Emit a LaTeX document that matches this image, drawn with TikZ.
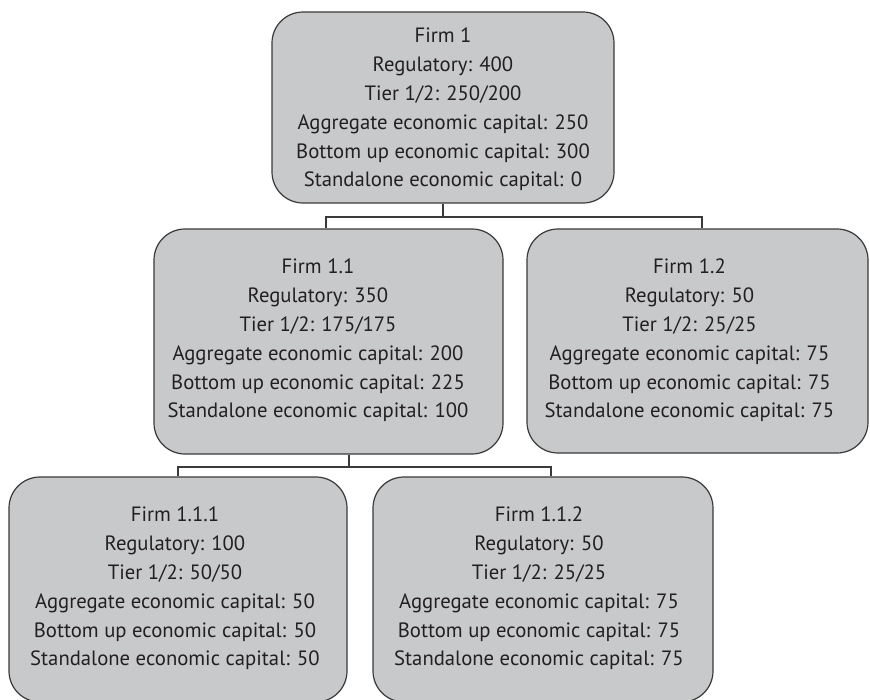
\documentclass[tikz,border=0pt]{standalone}
\usepackage{fontspec}
\setmainfont{PT Sans}
\usetikzlibrary{positioning}
\definecolor{boxfill}{HTML}{C8C9CB}
\definecolor{boxline}{HTML}{3A3A3A}
\definecolor{txt}{HTML}{231F20}
\begin{document}
\begin{tikzpicture}[x=1pt,y=-1pt,
  firmbox/.style={draw=boxline,fill=boxfill,line width=1.2pt,rounded corners=31pt,
    rectangle,inner sep=0pt},
  firmtext/.style={align=center,inner sep=0pt,text=txt,
    font=\fontsize{20.7}{28.8}\selectfont},
  link/.style={draw=boxline,line width=1.1pt}]
\fill[white] (0,0) rectangle (870,699);
\useasboundingbox (0,0) rectangle (870,699);

% boxes
\node[firmbox,minimum width=342pt,minimum height=191pt] (n1)   at (443,107.5) {};
\node[firmbox,minimum width=349pt,minimum height=225pt] (n11)  at (328.5,341.5) {};
\node[firmbox,minimum width=341pt,minimum height=224pt] (n12)  at (697.5,341) {};
\node[firmbox,minimum width=338pt,minimum height=225pt] (n111) at (178,589.5) {};
\node[firmbox,minimum width=340pt,minimum height=225pt] (n112) at (543,589.5) {};

% texts
\node[firmtext] (n1t) at (443,109.5) {Firm 1\\Regulatory: 400\\Tier 1/2: 250/200\\Aggregate economic capital: 250\\Bottom up economic capital: 300\\Standalone economic capital: 0};
\node[firmtext] (n11t) at (318,340.5) {Firm 1.1\\Regulatory: 350\\Tier 1/2: 175/175\\Aggregate economic capital: 200\\Bottom up economic capital: 225\\Standalone economic capital: 100};
\node[firmtext] (n12t) at (689.5,340.5) {Firm 1.2\\Regulatory: 50\\Tier 1/2: 25/25\\Aggregate economic capital: 75\\Bottom up economic capital: 75\\Standalone economic capital: 75};
\node[firmtext] (n111t) at (175,588.5) {Firm 1.1.1\\Regulatory: 100\\Tier 1/2: 50/50\\Aggregate economic capital: 50\\Bottom up economic capital: 50\\Standalone economic capital: 50};
\node[firmtext] (n112t) at (539,588.5) {Firm 1.1.2\\Regulatory: 50\\Tier 1/2: 25/25\\Aggregate economic capital: 75\\Bottom up economic capital: 75\\Standalone economic capital: 75};

% connectors
\coordinate (bus1) at (443,217);
\coordinate (bus2) at (349,467);
\draw[link] (n1.south) -- (bus1);
\draw[link] ([xshift=-2.5pt]n11.north) |- (bus1) -| ([xshift=4.5pt]n12.north);
\draw[link] ([xshift=20.5pt]n11.south) -- (bus2);
\draw[link] (n111.north) |- (bus2) -| ([xshift=8pt]n112.north);
\end{tikzpicture}
\end{document}
